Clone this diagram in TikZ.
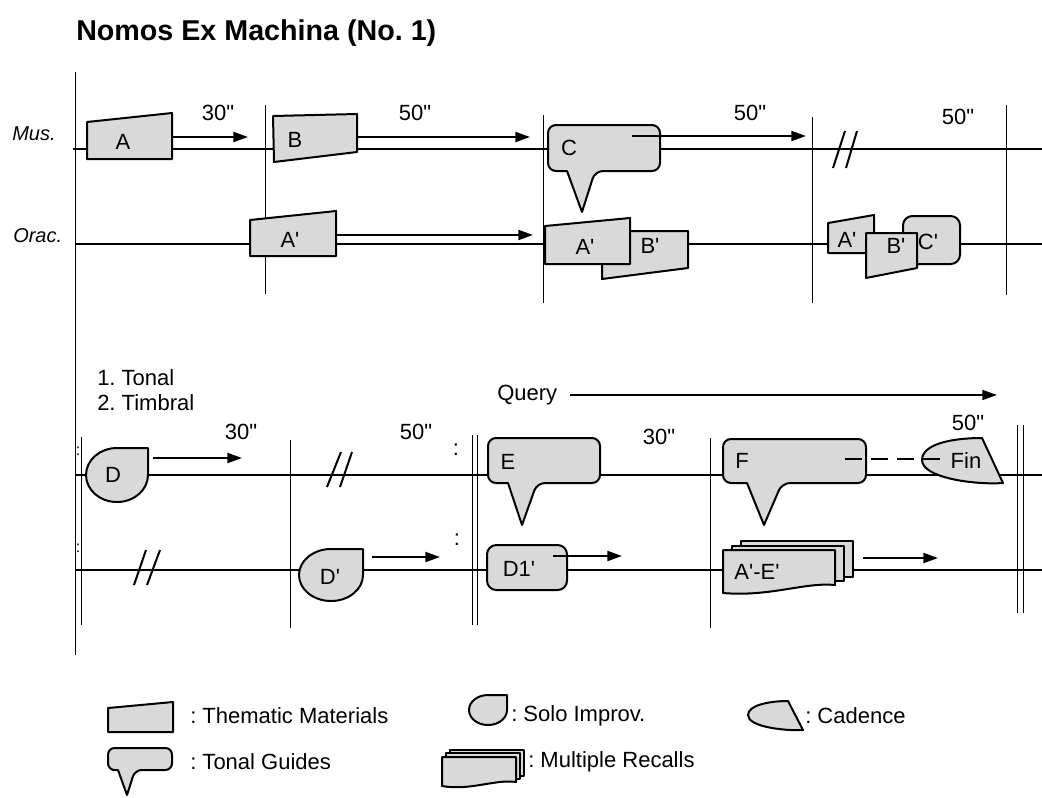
\documentclass[tikz,border=0pt]{standalone}
\usepackage{fontspec}
\newfontfamily\lsans{Liberation Sans}
\usetikzlibrary{arrows.meta}
\definecolor{shapegray}{RGB}{217,217,217}
\newcommand\fsz{\fontsize{16.5pt}{19pt}\selectfont}
\begin{document}
\frenchspacing
\begin{tikzpicture}[x=0.75pt,y=-0.75pt,
  every node/.style={inner sep=0pt, font=\lsans\fsz},
  staff/.style={line width=1.5pt},
  bar/.style={line width=0.75pt},
  shp/.style={draw, fill=shapegray, line width=1.5pt, line join=round},
  arr/.style={line width=1.5pt, -{Triangle[length=11pt,width=7.5pt]}},
  qarr/.style={line width=1.1pt, -{Triangle[length=11pt,width=7.5pt]}},
  stafflbl/.style={anchor=west, font=\lsans\itshape\fontsize{15pt}{18pt}\selectfont},
  brk/.style={line width=1.5pt},
  dots/.style={anchor=center},
  legtext/.style={anchor=west},
]
\useasboundingbox (0,0) rectangle (1042,797);

% ---------- title ----------
\node[anchor=base west, font=\lsans\bfseries\fontsize{21.5pt}{24pt}\selectfont] (title) at (76,40) {Nomos Ex Machina (No. 1)};

% ---------- main vertical ----------
\coordinate (vT) at (75,72); \coordinate (vB) at (75,655);
\draw[bar] (vT) -- (vB);

% ---------- top system ----------
\coordinate (m1L) at (73,149); \coordinate (m1R) at (1042,149);
\coordinate (o1L) at (75,244); \coordinate (o1R) at (1042,244);
\draw[staff] (m1L) -- (m1R);
\draw[staff] (o1L) -- (o1R);
\node[stafflbl] (mus1) at (12,134) {Mus.};
\node[stafflbl] (orac1) at (13,236) {Orac.};

\coordinate (b1t) at (265,105); \coordinate (b1b) at (265,294);
\coordinate (b2t) at (543,115); \coordinate (b2b) at (543,303);
\coordinate (b3t) at (812,117); \coordinate (b3b) at (812,303);
\coordinate (b4t) at (1006,105); \coordinate (b4b) at (1006,295);
\draw[bar] (b1t) -- (b1b);
\draw[bar] (b2t) -- (b2b);
\draw[bar] (b3t) -- (b3b);
\draw[bar] (b4t) -- (b4b);

% A
\draw[shp] (87,122) -- (172,113) -- (172,159) -- (87,159) -- cycle;
\node (A) at (123,142) {A};
\coordinate (Aa) at (172,137); \coordinate (Ab) at (248,137);
\draw[arr] (Aa) -- (Ab);
\node (t1) at (218,113) {30"};

% B
\draw[shp] (273,116) -- (357,114) -- (357,152) -- (274,162) -- cycle;
\node (B) at (295,140) {B};
\coordinate (Ba) at (357,137); \coordinate (Bb) at (530,137);
\draw[arr] (Ba) -- (Bb);
\node (t2) at (415,113) {50"};

% C (tonal guide)
\draw[shp] (582,212) -- (567,171) -- (557,171) [rounded corners=6pt] -- (548,171) -- (548,125) -- (660,125) -- (660,171) -- (595,171) [sharp corners] -- cycle;
\node (C) at (569,148) {C};
\coordinate (Ca) at (632,136); \coordinate (Cb) at (806,136);
\draw[arr] (Ca) -- (Cb);
\node (t3) at (750,113) {50"};

% break mark
\draw[brk] (833,168) -- (845,131);
\draw[brk] (846,168) -- (857,131);
\node (t4) at (958,117) {50"};

% Orac A'
\draw[shp] (250,220) -- (336,211) -- (336,256) -- (250,256) -- cycle;
\node (Ap1) at (290,240) {A'};
\coordinate (Apa) at (336,235); \coordinate (Apb) at (533,235);
\draw[arr] (Apa) -- (Apb);

% Orac A' B'
\draw[shp] (602,231) -- (688,231) -- (688,268) -- (602,279) -- cycle;
\node (Bp2) at (650,246) {B'};
\draw[shp] (545,226) -- (630,218) -- (630,264) -- (545,264) -- cycle;
\node (Ap2) at (585,247) {A'};

% Orac A' B' C'
\draw[shp] (828,223) -- (874,215) -- (874,253) -- (828,253) -- cycle;
\node (Ap3) at (847,240) {A'};
\draw[shp, rounded corners=7pt] (903,216) rectangle (960,264);
\node (Cp3) at (928,242) {C'};
\draw[shp] (866,233) -- (917,233) -- (917,268) -- (866,278) -- cycle;
\node (Bp3) at (896,246) {B'};

% ---------- bottom system ----------
\node[anchor=west] (tonal) at (97,378) {1. Tonal};
\node[anchor=west] (timbral) at (97,403) {2. Timbral};
\node[anchor=west] (query) at (497,395) {Query};
\coordinate (qa) at (570,395); \coordinate (qb) at (997,395);
\draw[qarr] (qa) -- (qb);

\coordinate (m2L) at (75,475); \coordinate (m2R) at (1042,475);
\coordinate (o2L) at (75,570); \coordinate (o2R) at (1042,570);
\draw[staff] (m2L) -- (m2R);
\draw[staff] (o2L) -- (o2R);

\coordinate (c1t) at (81,437); \coordinate (c1b) at (81,625);
\coordinate (c2t) at (290,440); \coordinate (c2b) at (290,628);
\coordinate (c3t) at (472,435); \coordinate (c3b) at (472,625);
\coordinate (c4t) at (477,435); \coordinate (c4b) at (477,625);
\coordinate (c5t) at (710,438); \coordinate (c5b) at (710,628);
\coordinate (c6t) at (1017,425); \coordinate (c6b) at (1017,613);
\coordinate (c7t) at (1023,425); \coordinate (c7b) at (1023,613);
\draw[bar] (c1t) -- (c1b);
\draw[bar] (c2t) -- (c2b);
\draw[bar] (c3t) -- (c3b);
\draw[bar] (c4t) -- (c4b);
\draw[bar] (c5t) -- (c5b);
\draw[bar] (c6t) -- (c6b);
\draw[bar] (c7t) -- (c7b);
\node[dots, font=\lsans\fontsize{12pt}{14pt}\selectfont] (dl1) at (78,451) {:};
\node[dots, font=\lsans\fontsize{12pt}{14pt}\selectfont] (dl2) at (78,548) {:};
\node[dots] (dr1) at (456,450) {:};
\node[dots] (dr2) at (457,540) {:};

% D
\draw[shp] (148,448) -- (148,475) arc[start angle=0, end angle=270, x radius=31, y radius=27] -- cycle;
\node (D) at (113,475) {D};
\coordinate (Da) at (153,458); \coordinate (Db) at (242,458);
\draw[arr] (Da) -- (Db);
\node (t5) at (241,432) {30"};
\node (t6) at (416,432) {50"};

% breaks
\draw[brk] (327,487) -- (341,452);
\draw[brk] (340,487) -- (352,452);
\draw[brk] (134,585) -- (146,550);
\draw[brk] (147,585) -- (160,550);

% D'
\draw[shp] (363,549) -- (363,575) arc[start angle=0, end angle=270, x radius=32, y radius=26] -- cycle;
\node (Dp) at (330,577) {D'};
\coordinate (Dpa) at (372,557); \coordinate (Dpb) at (440,557);
\draw[arr] (Dpa) -- (Dpb);

% E
\draw[shp] (522,525) -- (508,483) -- (498,483) [rounded corners=6pt] -- (488,483) -- (488,438) -- (600,438) -- (600,483) -- (537,483) [sharp corners] -- cycle;
\node (E) at (508,462) {E};
\node (t7) at (659,437) {30"};

% D1'
\draw[shp, rounded corners=7pt] (487,545) rectangle (567,590);
\node (D1p) at (519,569) {D1'};
\coordinate (D1a) at (553,556); \coordinate (D1b) at (622,556);
\draw[arr] (D1a) -- (D1b);

% F
\draw[shp] (764,525) -- (747,483) -- (737,483) [rounded corners=6pt] -- (723,483) -- (723,439) -- (866,439) -- (866,483) -- (782,483) [sharp corners] -- cycle;
\node (F) at (742,461) {F};

% Fin
\draw[shp] (982,438) -- (1003,483) .. controls (975,485) and (922,478) .. (922,460) .. controls (922,444) and (952,438) .. (982,438) -- cycle;
\node (Fin) at (966,461) {Fin};
\node (t8) at (968,423) {50"};
\coordinate (Fa) at (845,459); \coordinate (Fb) at (943,459);
\draw[line width=1.5pt, dash pattern=on 13pt off 6.5pt] (Fa) -- (Fb);

% A'-E' multiple
\draw[shp] (741,541) rectangle (853,577);
\draw[shp] (732,546) rectangle (844,581);
\draw[shp] (723,550) -- (835,550) -- (835,585) .. controls (805,582) and (770,597) .. (723,593) -- cycle;
\node (AE) at (757,572) {A'-E'};
\coordinate (AEa) at (863,558); \coordinate (AEb) at (938,558);
\draw[arr] (AEa) -- (AEb);

% ---------- legend ----------
\draw[shp] (108,708) -- (173,702) -- (173,732) -- (108,732) -- cycle;
\node[legtext] (lg1) at (190,716) {: Thematic Materials};

\draw[shp] (507,695) -- (507,710) arc[start angle=0, end angle=270, x radius=19, y radius=15] -- cycle;
\node[legtext] (lg2) at (511,716) {: Solo Improv.};

\draw[shp] (788,701) -- (803,730) .. controls (785,731) and (748,727) .. (748,715) .. controls (748,705) and (770,701) .. (788,701) -- cycle;
\node[legtext] (lg3) at (805,716) {: Cadence};

\draw[shp] (127,795) -- (118,770) -- (113,770) [rounded corners=5pt] -- (108,770) -- (108,748) -- (172,748) -- (172,770) -- (135,770) [sharp corners] -- cycle;
\node[legtext] (lg4) at (190,762) {: Tonal Guides};

\draw[shp] (450,750) rectangle (524,776);
\draw[shp] (446,753) rectangle (520,779);
\draw[shp] (442,757) -- (516,757) -- (516,782) .. controls (495,779) and (470,791) .. (442,786) -- cycle;
\node[legtext] (lg5) at (528,762) {: Multiple Recalls};
\end{tikzpicture}
\end{document}
